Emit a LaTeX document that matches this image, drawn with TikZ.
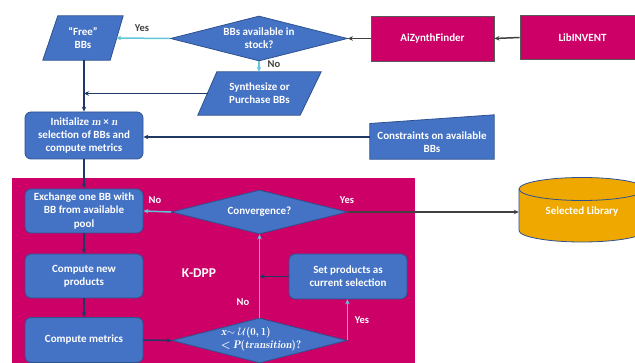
\documentclass[tikz,border=0pt]{standalone}
\usepackage{fontspec}
\setmainfont{Carlito}
\usetikzlibrary{shapes.geometric,arrows.meta}
\newcommand\myvar[1]{{\fontfamily{lmr}\selectfont\bfseries\itshape #1}}
\newcommand\myup[1]{{\fontfamily{lmr}\selectfont\bfseries #1}}
\definecolor{bfill}{HTML}{4472C4}
\definecolor{bline}{HTML}{2F528F}
\definecolor{pinkc}{HTML}{CC0066}
\definecolor{goldc}{HTML}{EEA800}
\definecolor{cyanc}{HTML}{62C6DA}
\definecolor{navyc}{HTML}{1F3864}
\definecolor{grayc}{HTML}{404040}
\tikzset{
  base/.style={font=\bfseries\fontsize{11}{13.3}\selectfont, text=white, align=center},
  bbox/.style={base, rectangle, rounded corners=6pt, fill=bfill, draw=bline, line width=0.8pt, minimum width=118pt, inner sep=1pt},
  pbox/.style={base, rectangle, fill=pinkc, draw=gray!70!black, line width=0.9pt, inner sep=1pt},
  dia/.style={diamond, fill=bfill, draw=bline, line width=0.8pt, inner sep=0pt},
  frame/.style={rectangle, inner sep=0pt},
  shp/.style={fill=bfill, draw=bline, line width=0.8pt},
  txt/.style={base, inner sep=0pt},
  lbl/.style={font=\bfseries\fontsize{10.5}{12}\selectfont, inner sep=0pt},
  arr/.style={line width=1.5pt, -{Stealth[length=5pt,width=4.5pt]}},
  navyarr/.style={arr, draw=navyc},
  cyanarr/.style={arr, draw=cyanc},
  grayarr/.style={arr, draw=grayc},
}
\begin{document}
\begin{tikzpicture}[x=1pt,y=-1pt]
\useasboundingbox (0,0) rectangle (635,363);
\clip (0,0) rectangle (635,363);
% pink region
\fill[pinkc] (12,178) rectangle (415,375);
% top row
\node[frame, minimum width=80pt, minimum height=44pt] (free) at (83,38) {};
\path[shp] (free.south west) -- ([xshift=-13pt]free.south east) -- (free.north east) -- ([xshift=15pt]free.north west) -- cycle;
\node[txt] (freet) at (free.center) {“Free”\\BBs};
\node[dia, minimum width=177pt, minimum height=45pt] (dia1) at (259,38.5) {};
\node[txt] (dia1t) at (dia1.center) {BBs available  in\\stock?};
\node[pbox, minimum width=123pt, minimum height=45pt] (aiz) at (432.5,38.5) {AiZynthFinder};
\node[pbox, minimum width=125pt, minimum height=44pt] (lib) at (582.5,37.5) {LibINVENT};
\node[frame, minimum width=123pt, minimum height=43pt] (synth) at (259.5,93.5) {};
\path[shp] (synth.south west) -- ([xshift=-21pt]synth.south east) -- (synth.north east) -- ([xshift=19pt]synth.north west) -- cycle;
\node[txt] (syntht) at (synth.center) {Synthesize or\\Purchase BBs};
% init and constraints
\node[bbox, minimum height=47pt] (init) at (84,135.5) {Initialize \myvar{m} × \myvar{n}\\selection of BBs and\\compute metrics};
\node[frame, minimum width=124pt, minimum height=44pt] (cons) at (432,137) {};
\path[shp] (cons.south west) -- (cons.south east) -- (cons.north east) -- (cons.west |- 0,123.5) -- cycle;
\node[txt] (const) at (432,142) {Constraints  on available\\BBs};
% K-DPP loop
\node[bbox, minimum height=44pt] (exch) at (84,211) {Exchange one BB with\\BB from available\\pool};
\node[dia, minimum width=176pt, minimum height=44pt] (conv) at (259.5,212) {};
\node[txt] (convt) at (conv.center) {Convergence?};
\node[bbox, minimum height=44pt] (new) at (84,276) {Compute  new\\products};
\node[bbox, minimum height=45pt] (met) at (84,340) {Compute  metrics};
\node[dia, minimum width=175pt, minimum height=45pt] (dia2) at (259.5,340.5) {};
\node[txt, align=left, font=\fontsize{11}{12.5}\selectfont] (dia2t) at (261,339) {\myvar{x}$\sim\mathcal{U}$\myup{(0,\,1)}\\\myup{<} \myvar{P}\myup{(}\myvar{transition}\myup{)?}};
\node[bbox, minimum height=45pt] (setp) at (348,276.5) {Set products  as\\current  selection};
\node[txt, font=\bfseries\fontsize{13.5}{15}\selectfont] (kdpp) at (199,273) {K-DPP};
% selected library cylinder
\node[frame, minimum width=126pt, minimum height=64pt] (sel) at (582,210) {};
\filldraw[fill=goldc, draw=bline, line width=0.8pt] (519,189) -- (519,230.5) arc[start angle=180, end angle=360, x radius=63pt, y radius=11.5pt] -- (645,189) arc[start angle=0, end angle=180, x radius=63pt, y radius=11.5pt] -- cycle;
\draw[bline, line width=0.8pt] (519,189) arc[start angle=180, end angle=360, x radius=63pt, y radius=11.5pt];
\node[txt] (selt) at (582,212) {Selected Library};
% connectors
\draw[grayarr] (lib.west) -- (aiz.east);
\draw[grayarr] (aiz.west) -- (dia1.east);
\draw[cyanarr] (dia1.west) -- ([xshift=-7pt]free.east);
\node[lbl, text=grayc] (yes1) at (142,28) {Yes};
\draw[cyanarr] (dia1.south) -- (dia1.south |- synth.north);
\node[lbl, text=grayc] (no1) at (274,64) {No};
\draw[navyarr] (init.north |- free.south) -- (init.north);
\draw[navyarr] ([xshift=10pt]synth.west) -- (synth.west -| init.north);
\draw[navyarr] (cons.west) -- (cons.west -| init.east);
\draw[navyarr] (init.south) -- (exch.north);
\draw[cyanarr] (conv.west) -- (exch.east);
\node[lbl, text=white] (no2) at (155,200) {No};
\draw[grayarr] (conv.east) -- (conv.east -| sel.west);
\node[lbl, text=white] (yes2) at (347,200) {Yes};
\draw[navyarr] (exch.south) -- (new.north);
\draw[navyarr] (new.south) -- (met.north);
\draw[navyarr] (met.east) -- (dia2.west);
\draw[cyanarr] (dia2.north) -- (conv.south);
\node[lbl, text=white] (no3) at (243,302) {No};
\draw[cyanarr] (dia2.east) -- (dia2.east |- setp.south);
\node[lbl, text=white] (yes3) at (362,320) {Yes};
\draw[navyarr] (setp.west) -- (setp.west -| dia2.north);
\end{tikzpicture}
\end{document}
